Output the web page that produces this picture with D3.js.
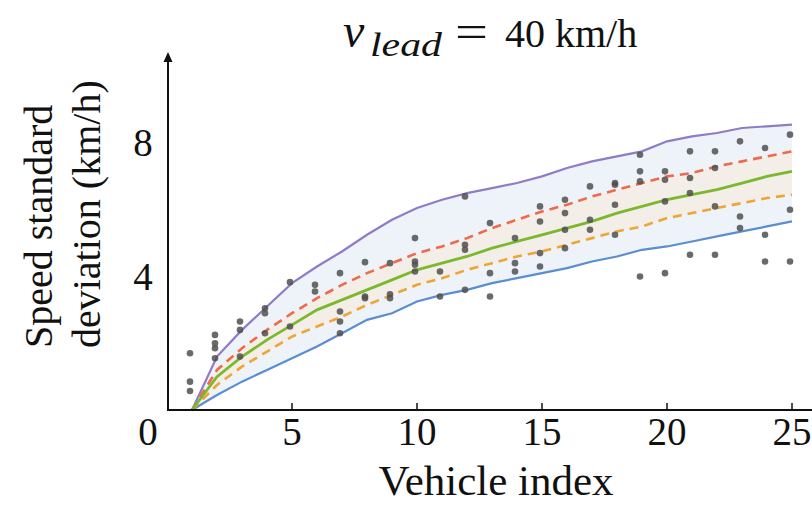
<!DOCTYPE html>
<html><head><meta charset="utf-8">
<script src="https://cdn.jsdelivr.net/npm/d3@7"></script>
<style>
html,body{margin:0;padding:0;background:#fff;}
svg{display:block;}
text{font-family:"Liberation Serif","Times New Roman",serif;fill:#111;}
</style></head>
<body>
<svg id="chart" width="812" height="505"></svg>
<script>
const vehicles = d3.range(1, 26);
const upper  = [0,1.6,2.4,3.1,3.8,4.3,4.75,5.25,5.7,6.05,6.3,6.5,6.65,6.8,7.0,7.25,7.45,7.6,7.75,8.05,8.2,8.3,8.45,8.5,8.55];
const upperQ = [0,1.2,1.85,2.4,2.9,3.35,3.75,4.1,4.4,4.7,4.9,5.15,5.45,5.7,5.95,6.15,6.4,6.6,6.8,7.0,7.1,7.3,7.45,7.6,7.75];
const mean   = [0,1.0,1.6,2.1,2.55,3.0,3.3,3.6,3.9,4.2,4.4,4.6,4.85,5.05,5.25,5.45,5.65,5.9,6.1,6.3,6.45,6.6,6.8,7.0,7.15];
const lowerQ = [0,0.75,1.3,1.75,2.2,2.5,2.8,3.15,3.45,3.75,3.95,4.2,4.4,4.6,4.75,4.95,5.15,5.35,5.5,5.75,5.9,6.05,6.2,6.35,6.45];
const lower  = [0,0.45,0.85,1.2,1.55,1.9,2.3,2.7,2.9,3.25,3.45,3.6,3.8,3.95,4.1,4.25,4.45,4.6,4.8,4.9,5.05,5.2,5.35,5.5,5.65];
const obsVehicle = [1,1,1, 2,2,2,2, 3,3,3, 4,4,4, 5,5, 6,6, 7,7,7,7, 8,8,8, 9,9,9, 10,10,10,10, 11,11, 12,12,12,12, 13,13,13, 14,14,14, 15,15,15,15, 16,16,16,16, 17,17,17, 18,18,18,18, 19,19,19,19, 20,20,20,20, 21,21,21,21, 22,22,22,22, 23,23,23, 24,24,24, 25,25,25];
const obsValue   = [1.7,0.85,0.57, 2.25,2.0,1.85,1.55, 2.65,2.4,1.6, 3.05,2.9,2.3, 3.83,2.5, 3.75,3.55, 4.1,2.95,2.65,2.3, 4.43,3.4,3.35, 4.4,3.47,3.35, 5.15,4.45,4.35,4.15, 4.15,3.4, 6.4,4.95,4.8,3.6, 5.6,4.1,3.4, 5.15,4.4,4.15, 6.1,5.65,4.7,4.3, 6.3,5.9,5.4,4.85, 6.7,5.7,5.4, 6.8,6.75,6.15,5.25, 7.65,7.15,6.85,4.0, 7.15,6.9,6.25,4.1, 7.75,6.95,6.5,4.65, 7.75,7.25,6.1,4.65, 8.05,5.8,5.45, 7.85,5.25,4.45, 8.25,6.0,4.45];
const xTicks = [5,10,15,20,25];
const yTicks = [4,8];

const svg = d3.select("#chart");
const x = d3.scaleLinear().domain([0,25]).range([167,792]);
const y = d3.scaleLinear().domain([0,8]).range([410,143]);

const ptsOf = arr => vehicles.map((v,i)=>[v,arr[i]]);
const band = (hi,lo) => d3.area().x((d,i)=>x(vehicles[i])).y0((d,i)=>y(lo[i])).y1((d,i)=>y(hi[i]));

svg.append("path").datum(upper).attr("d", band(upper,lower)).attr("fill","#eef3f9");
svg.append("path").datum(upperQ).attr("d", band(upperQ,lowerQ)).attr("fill","#f3efe8");

const line = d3.line().x(d=>x(d[0])).y(d=>y(d[1]));
const series = [
  {data:upper,  color:"#8f7cc9", dash:null, w:2.2},
  {data:lower,  color:"#5b8ed0", dash:null, w:2.2},
  {data:upperQ, color:"#ef6a4c", dash:"9,6", w:2.6},
  {data:lowerQ, color:"#efa534", dash:"9,6", w:2.6},
  {data:mean,   color:"#7cb82e", dash:null, w:2.8}
];
series.forEach(s=>{
  svg.append("path").datum(ptsOf(s.data)).attr("d",line)
    .attr("fill","none").attr("stroke",s.color).attr("stroke-width",s.w)
    .attr("stroke-dasharray",s.dash);
});

svg.append("g").selectAll("circle").data(obsVehicle).join("circle")
  .attr("cx",(d,i)=>x(d)-2).attr("cy",(d,i)=>y(obsValue[i])).attr("r",3.3)
  .attr("fill","#505050").attr("opacity",0.85);

// axes
const axes = svg.append("g");
axes.append("line").attr("x1",x(0)+1).attr("x2",812).attr("y1",y(0)).attr("y2",y(0)).attr("stroke","#111").attr("stroke-width",2);
axes.append("line").attr("x1",x(0)+1).attr("x2",x(0)+1).attr("y1",y(0)+1).attr("y2",58).attr("stroke","#111").attr("stroke-width",2);
axes.append("path").attr("d",`M${x(0)+1},52 L${x(0)-3.5},62 L${x(0)+5.5},62 Z`).attr("fill","#111");
xTicks.forEach(t=>{
  axes.append("line").attr("x1",x(t)).attr("x2",x(t)).attr("y1",y(0)).attr("y2",y(0)-7).attr("stroke","#111").attr("stroke-width",1.5);
  axes.append("text").attr("x",x(t)).attr("y",445).attr("text-anchor","middle").attr("font-size",39).text(t);
});
yTicks.forEach(t=>{
  axes.append("text").attr("x",143).attr("y",y(t)+13).attr("text-anchor","middle").attr("font-size",39).text(t);
});
axes.append("text").attr("x",148).attr("y",445).attr("text-anchor","middle").attr("font-size",39).text("0");

svg.append("text").attr("x",496).attr("y",495).attr("text-anchor","middle").attr("font-size",43).text("Vehicle index");
const yl = svg.append("text").attr("transform","translate(0,348) rotate(-90)").attr("font-size",40);
yl.append("tspan").attr("x",0).attr("y",52).text("Speed standard");
yl.append("tspan").attr("x",0).attr("y",100).text("deviation (km/h)");

const title = svg.append("g");
title.append("text").attr("x",343).attr("y",47).attr("font-size",48).attr("font-style","italic").text("v");
title.append("text").attr("x",370).attr("y",56).attr("font-size",33).attr("font-style","italic")
  .attr("textLength",72).attr("lengthAdjust","spacingAndGlyphs").text("lead");
title.append("text").attr("x",455).attr("y",47).attr("font-size",46)
  .attr("textLength",33).attr("lengthAdjust","spacingAndGlyphs").text("=");
title.append("text").attr("x",505).attr("y",47).attr("font-size",40).text("40 km/h");
</script>
</body></html>
